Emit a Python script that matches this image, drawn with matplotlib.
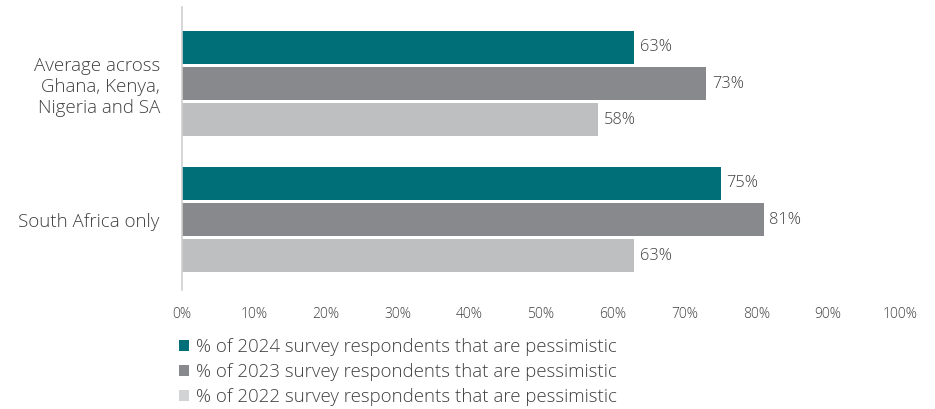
import numpy as np
import matplotlib.pyplot as plt
from matplotlib.patches import Patch

plt.rcParams['font.family'] = ['Open Sans', 'DejaVu Sans']
plt.rcParams['font.weight'] = 'light'

categories = ["Average across\nGhana, Kenya,\nNigeria and SA", "South Africa only"]
series_names = [
    "% of 2024 survey respondents that are pessimistic",
    "% of 2023 survey respondents that are pessimistic",
    "% of 2022 survey respondents that are pessimistic",
]
values_2024 = [63, 75]
values_2023 = [73, 81]
values_2022 = [58, 63]
xticks = [0, 10, 20, 30, 40, 50, 60, 70, 80, 90, 100]

colors = ["#006f78", "#88898d", "#bebfc1"]
legend_colors = ["#006f78", "#88898d", "#d2d3d4"]
text_color = "#404040"

fig = plt.figure(figsize=(9.35, 4.09), dpi=100)
ax = fig.add_axes([182 / 935, 119 / 409, 718 / 935, 283 / 409])

y = np.arange(len(categories))
pitch = 0.265
height = 0.243
for i, vals in enumerate([values_2024, values_2023, values_2022]):
    pos = y + (i - 1) * pitch
    ax.barh(pos, vals, height=height, color=colors[i])
    for p, v in zip(pos, vals):
        ax.text(v + 0.8, p, f"{v}%", va="center", ha="left",
                fontsize=11.8, color=text_color)

ax.set_xlim(0, 100)
ax.set_ylim(1.518, -0.5625)
ax.set_xticks(xticks)
ax.set_xticklabels([f"{t}%" for t in xticks], fontsize=10, color=text_color)
ax.set_yticks(y)
ax.set_yticklabels(categories, fontsize=13.5, color=text_color, linespacing=1.2)
ax.tick_params(axis="both", length=0)
ax.tick_params(axis="y", pad=16)
ax.tick_params(axis="x", pad=12)

for side in ["top", "right", "bottom"]:
    ax.spines[side].set_visible(False)
ax.spines["left"].set_color("#d0d0d0")
ax.spines["left"].set_linewidth(1.2)

handles = [Patch(facecolor=c, edgecolor="none") for c in legend_colors]
fig.legend(handles, series_names, loc="upper left",
           bbox_to_anchor=(179 / 935, 1 - 338 / 409), frameon=False,
           fontsize=13.4, handlelength=0.55, handleheight=0.55,
           handletextpad=0.35, labelspacing=0.38, labelcolor=text_color,
           borderaxespad=0, borderpad=0)

fig.savefig("out.png", dpi=100)
